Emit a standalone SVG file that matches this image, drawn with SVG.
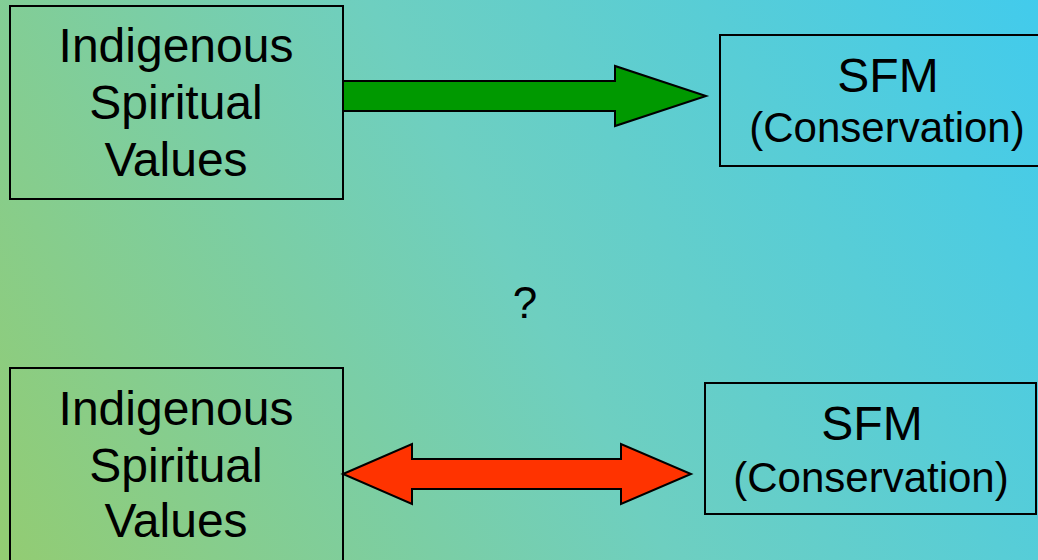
<svg xmlns="http://www.w3.org/2000/svg" width="1038" height="560" viewBox="0 0 1038 560">
  <defs>
    <linearGradient id="bg" gradientUnits="userSpaceOnUse" x1="0" y1="560" x2="1038" y2="0">
      <stop offset="0" stop-color="#93CC72"/>
      <stop offset="0.5" stop-color="#6ECFC0"/>
      <stop offset="1" stop-color="#42CBEC"/>
    </linearGradient>
    <style>
      .box { fill: none; stroke: #000; stroke-width: 2; }
      .lbl { font-family: "Liberation Sans", Arial, sans-serif; fill: #000; text-anchor: middle; }
      .big { font-size: 48px; }
      .sub { font-size: 42px; }
      .q { font-size: 44px; }
      .arrow { stroke: #000; stroke-width: 2; stroke-linejoin: miter; }
    </style>
  </defs>

  <rect x="0" y="0" width="1038" height="560" fill="url(#bg)"/>

  <!-- connectors -->
  <g id="connectors">
    <polygon class="arrow" fill="#009900" points="343,81 615,81 615,66 706,96 615,126 615,111 343,111"/>
    <polygon class="arrow" fill="#FF3300" points="343,474 412,444 412,459 621,459 621,444 691,474 621,504 621,489 412,489 412,504"/>
  </g>

  <g id="values-top">
    <rect class="box" x="10" y="6" width="333" height="193"/>
    <text class="lbl big" x="176" y="62">Indigenous</text>
    <text class="lbl big" x="176" y="119">Spiritual</text>
    <text class="lbl big" x="176" y="176">Values</text>
  </g>

  <g id="sfm-top">
    <rect class="box" x="720" y="35" width="340" height="131"/>
    <text class="lbl big" x="888" y="92">SFM</text>
    <text class="lbl sub" x="887" y="142">(Conservation)</text>
  </g>

  <g id="question">
    <text class="lbl q" x="525" y="318">?</text>
  </g>

  <g id="values-bottom">
    <rect class="box" x="10" y="368" width="333" height="200"/>
    <text class="lbl big" x="176" y="425">Indigenous</text>
    <text class="lbl big" x="176" y="482">Spiritual</text>
    <text class="lbl big" x="176" y="537">Values</text>
  </g>

  <g id="sfm-bottom">
    <rect class="box" x="705" y="383" width="331" height="131"/>
    <text class="lbl big" x="872" y="440">SFM</text>
    <text class="lbl sub" x="871" y="492">(Conservation)</text>
  </g>
</svg>
